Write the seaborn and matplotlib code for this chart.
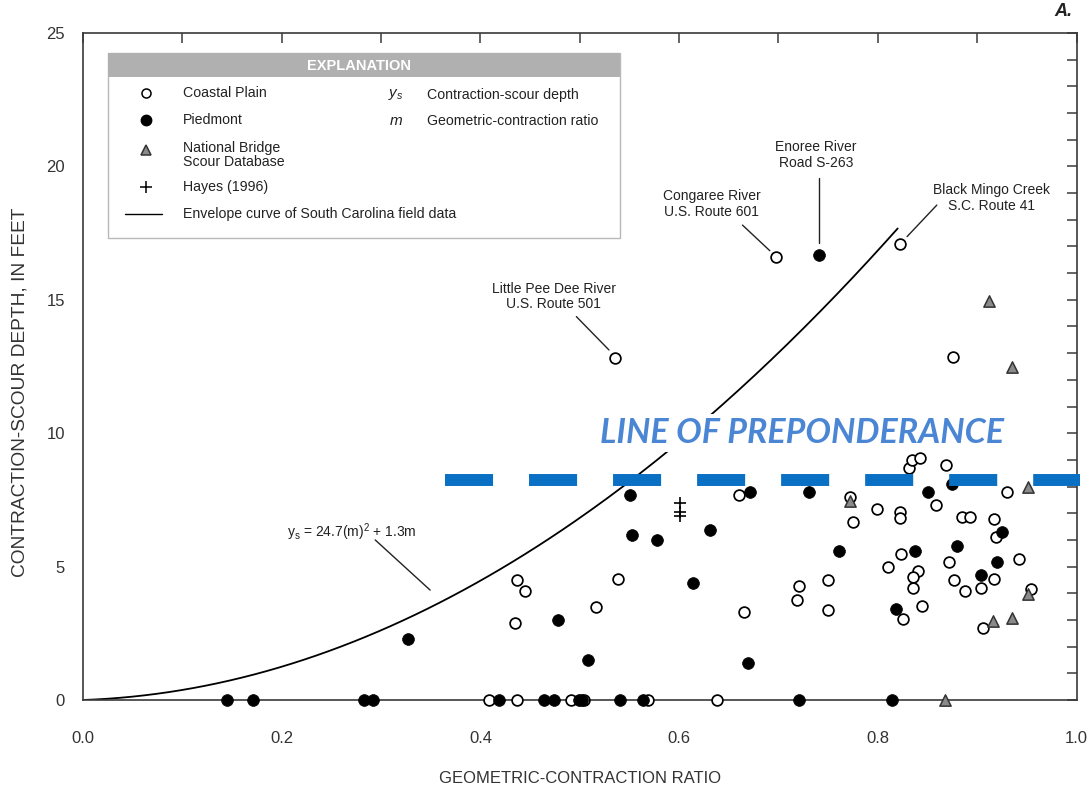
import numpy as np
import pandas as pd
import matplotlib
matplotlib.use("Agg")
import matplotlib.pyplot as plt
from matplotlib.patches import Rectangle
from matplotlib.lines import Line2D
from matplotlib import font_manager
import seaborn as sns

# ---------------- data ----------------
coastal_x = [0.409, 0.437, 0.491, 0.5045, 0.569, 0.638,
             0.437, 0.445, 0.435, 0.516, 0.539,
             0.5355, 0.6975, 0.822, 0.8755,
             0.660, 0.665, 0.721, 0.719, 0.750, 0.750,
             0.772, 0.775, 0.799,
             0.831, 0.834, 0.842, 0.869,
             0.859, 0.822, 0.822, 0.885, 0.893, 0.917, 0.930, 0.919,
             0.823, 0.810, 0.840, 0.8355, 0.835, 0.872, 0.942, 0.917, 0.877,
             0.904, 0.888, 0.954, 0.825, 0.844, 0.906]
coastal_y = [0, 0, 0, 0, 0, 0,
             4.50, 4.09, 2.89, 3.50, 4.53,
             12.80, 16.60, 17.10, 12.86,
             7.70, 3.29, 4.28, 3.74, 4.50, 3.39,
             7.62, 6.68, 7.15,
             8.70, 9.00, 9.06, 8.81,
             7.31, 7.06, 6.81, 6.87, 6.87, 6.78, 7.81, 6.10,
             5.48, 5.00, 4.85, 4.60, 4.21, 5.18, 5.28, 4.52, 4.50,
             4.20, 4.09, 4.15, 3.04, 3.54, 2.70]

piedmont_x = [0.145, 0.171, 0.283, 0.292, 0.419, 0.4636, 0.4743, 0.4988, 0.502,
              0.5408, 0.5633, 0.721, 0.8143,
              0.327, 0.478, 0.508, 0.551, 0.553, 0.578, 0.614, 0.631, 0.671,
              0.669, 0.731, 0.761, 0.7405,
              0.851, 0.925, 0.880, 0.837, 0.920, 0.904, 0.818, 0.875]
piedmont_y = [0, 0, 0, 0, 0, 0, 0, 0, 0,
              0, 0, 0, 0,
              2.29, 2.99, 1.49, 7.68, 6.17, 5.98, 4.39, 6.38, 7.78,
              1.40, 7.78, 5.58, 16.68,
              7.81, 6.29, 5.78, 5.60, 5.17, 4.70, 3.40, 8.10]

nbsd_x = [0.8674, 0.912, 0.935, 0.772, 0.951, 0.951, 0.916, 0.935]
nbsd_y = [0.0, 14.95, 12.47, 7.47, 7.97, 3.97, 2.97, 3.07]

hayes_x = [0.601, 0.601, 0.601]
hayes_y = [7.40, 7.05, 6.90]

# envelope curve  ys = 24.7 m^2 + 1.3 m  (as stated on the chart)
env_a, env_b, env_xmax = 24.7, 1.3, 0.82

# line of preponderance
prep_y = 8.24
prep_x = [0.3646, 1.004]

# site labels: text, text position, leader line start/end
site_labels = ["Little Pee Dee River\nU.S. Route 501",
               "Congaree River\nU.S. Route 601",
               "Enoree River\nRoad S-263",
               "Black Mingo Creek\nS.C. Route 41"]
site_text_xy = [(0.474, 15.12), (0.633, 18.58), (0.738, 20.42), (0.9147, 18.82)]
site_lead_a = [(0.4966, 14.37), (0.6638, 17.80), (0.7405, 19.55), (0.8594, 18.55)]
site_lead_b = [(0.5294, 13.12), (0.6913, 16.84), (0.7405, 17.12), (0.8295, 17.37)]

eq_text_xy = (0.271, 6.28)
eq_lead = [(0.2941, 6.00), (0.3494, 4.12)]

xticks_major = [0.0, 0.2, 0.4, 0.6, 0.8, 1.0]
yticks_major = [0, 5, 10, 15, 20, 25]

# ---------------- style ----------------
sns.set_style("white")
names = {f.name for f in font_manager.fontManager.ttflist}
base = "Liberation Sans" if "Liberation Sans" in names else "DejaVu Sans"
narrow = "Liberation Sans Narrow" if "Liberation Sans Narrow" in names else base
plt.rcParams["font.family"] = [base, "DejaVu Sans"]
plt.rcParams["lines.scale_dashes"] = False
plt.rcParams["mathtext.fontset"] = "custom"
plt.rcParams["mathtext.it"] = base + ":italic"
plt.rcParams["mathtext.rm"] = base

W, H = 1091, 791
fig = plt.figure(figsize=(W / 100, H / 100), dpi=100)
ax = fig.add_axes([83 / W, 91 / H, (1076.5 - 83) / W, 667 / H])
ax.set_facecolor("white")

spine_c = "#3a3a3a"
for s in ax.spines.values():
    s.set_visible(True)
    s.set_color(spine_c)
    s.set_linewidth(1.2)

# envelope curve
m = np.linspace(0, env_xmax, 200)
env_df = pd.DataFrame({"m": m, "ys": env_a * m ** 2 + env_b * m})
sns.lineplot(data=env_df, x="m", y="ys", color="black", linewidth=1.3, ax=ax, zorder=2)

# data points
cp = pd.DataFrame({"x": coastal_x, "y": coastal_y})
pd_ = pd.DataFrame({"x": piedmont_x, "y": piedmont_y})
nb = pd.DataFrame({"x": nbsd_x, "y": nbsd_y})
hy = pd.DataFrame({"x": hayes_x, "y": hayes_y})

sns.scatterplot(data=cp, x="x", y="y", marker="o", s=60, color="white",
                edgecolor="black", linewidth=1.25, ax=ax, zorder=4, clip_on=False, legend=False)
sns.scatterplot(data=pd_, x="x", y="y", marker="o", s=72, color="black",
                edgecolor="black", linewidth=0.5, ax=ax, zorder=4, clip_on=False, legend=False)
sns.scatterplot(data=nb, x="x", y="y", marker="^", s=66, color="#8a8a8a",
                edgecolor="#333333", linewidth=1.1, ax=ax, zorder=5, clip_on=False, legend=False)
sns.scatterplot(data=hy, x="x", y="y", marker="+", s=70, color="black",
                linewidth=1.2, ax=ax, zorder=5, clip_on=False, legend=False)

# line of preponderance
ax.plot(prep_x, [prep_y, prep_y], color="#0a70c4", linewidth=8.6,
        dashes=(34.6, 25.9), solid_capstyle="butt", dash_capstyle="butt",
        clip_on=False, zorder=6)
ax.text(0.724, 10.0, "LINE OF PREPONDERANCE", color="#4a86d4",
        fontsize=24.5, fontweight="bold", fontstyle="italic",
        family=["Lato", "Open Sans", "DejaVu Sans"], ha="center", va="center",
        zorder=7, bbox=dict(facecolor="white", edgecolor="none", pad=2))

# site labels
for lab, txy, a, b in zip(site_labels, site_text_xy, site_lead_a, site_lead_b):
    ax.text(txy[0], txy[1], lab, ha="center", va="center", fontsize=10,
            linespacing=1.15, color="#222222", zorder=8)
    ax.plot([a[0], b[0]], [a[1], b[1]], color="#222222", linewidth=1.0, zorder=3)

ax.text(eq_text_xy[0], eq_text_xy[1], r"y$_\mathrm{s}$ = 24.7(m)$^2$ + 1.3m", ha="center",
        va="center", fontsize=10, color="#222222", zorder=8)
ax.plot([eq_lead[0][0], eq_lead[1][0]], [eq_lead[0][1], eq_lead[1][1]],
        color="#222222", linewidth=1.0, zorder=3)

# axes, ticks
ax.set_xlim(0, 1.0)
ax.set_ylim(0, 25)
ax.set_xticks(xticks_major)
ax.set_xticklabels([f"{v:.1f}" for v in xticks_major])
ax.set_yticks(yticks_major)
ax.set_xticks(np.arange(0.1, 1.0, 0.2), minor=True)
ax.set_yticks([v for v in range(1, 25) if v % 5], minor=True)
ax.tick_params(which="both", direction="in", top=True, right=True,
               color=spine_c, width=1.1, length=7)
ax.tick_params(axis="x", which="major", pad=22, labelsize=12, labelcolor="#333333")
ax.tick_params(axis="y", which="major", pad=13, labelsize=12, labelcolor="#333333")
ax.set_xlabel("GEOMETRIC-CONTRACTION RATIO", fontsize=12, color="#333333", labelpad=18)
ax.set_ylabel("CONTRACTION-SCOUR DEPTH, IN FEET", fontsize=15.5 if narrow != base else 13.8,
              family=[narrow, "DejaVu Sans"], color="#333333", labelpad=18)
ax.yaxis.set_label_coords(-0.055, (700 - 392) / 667)

fig.text(1072 / W, 1 - 12 / H, "A.", fontsize=13, fontweight="bold", fontstyle="italic",
         ha="right", va="center", color="#222222")

# ---------------- legend (EXPLANATION box) ----------------
def P(px, py):
    return (px / W, 1 - py / H)

bx0, bx1, by0, by1 = 108, 620, 53, 238
fig.add_artist(Rectangle(P(bx0, by1), (bx1 - bx0) / W, (by1 - by0) / H,
                         transform=fig.transFigure, facecolor="white",
                         edgecolor="#b8b8b8", linewidth=1.0, zorder=10))
fig.add_artist(Rectangle(P(bx0, 77), (bx1 - bx0) / W, (77 - by0) / H,
                         transform=fig.transFigure, facecolor="#b0b0b0",
                         edgecolor="none", zorder=11))
fig.text(*P(359, 66), "EXPLANATION", color="white", fontweight="bold", fontsize=10.5,
         ha="center", va="center", zorder=12)

mx, tx = 146, 183
def leg_marker(py, **kw):
    x, y = P(mx, py)
    fig.add_artist(Line2D([x], [y], transform=fig.transFigure, linestyle="none",
                          zorder=12, **kw))

leg_marker(93, marker="o", markersize=6.5, markerfacecolor="white",
           markeredgecolor="black", markeredgewidth=1.1)
leg_marker(120, marker="o", markersize=7.5, markerfacecolor="black", markeredgecolor="black")
leg_marker(150, marker="^", markersize=7, markerfacecolor="#8a8a8a",
           markeredgecolor="#333333", markeredgewidth=1.1)
leg_marker(187, marker="+", markersize=8, markeredgecolor="black", markeredgewidth=1.1)
l0, l1 = P(125, 214), P(162, 214)
fig.add_artist(Line2D([l0[0], l1[0]], [l0[1], l1[1]], transform=fig.transFigure,
                      color="black", linewidth=1.0, zorder=12))

leg_rows = [(93, "Coastal Plain"), (120, "Piedmont"),
            (155, "National Bridge\nScour Database"), (187, "Hayes (1996)"),
            (214, "Envelope curve of South Carolina field data")]
for py, t in leg_rows:
    fig.text(*P(tx, py), t, fontsize=10.2, ha="left", va="center", linespacing=0.95,
             color="#222222", zorder=12)

fig.text(*P(396, 95), r"$y_s$", fontsize=11, ha="center", va="center", color="#222222", zorder=12)
fig.text(*P(427, 95), "Contraction-scour depth", fontsize=10.2, ha="left", va="center",
         color="#222222", zorder=12)
fig.text(*P(396, 121), r"$m$", fontsize=11, ha="center", va="center", color="#222222", zorder=12)
fig.text(*P(427, 121), "Geometric-contraction ratio", fontsize=10.2, ha="left", va="center",
         color="#222222", zorder=12)

fig.savefig("out.png", dpi=100, facecolor="white")
